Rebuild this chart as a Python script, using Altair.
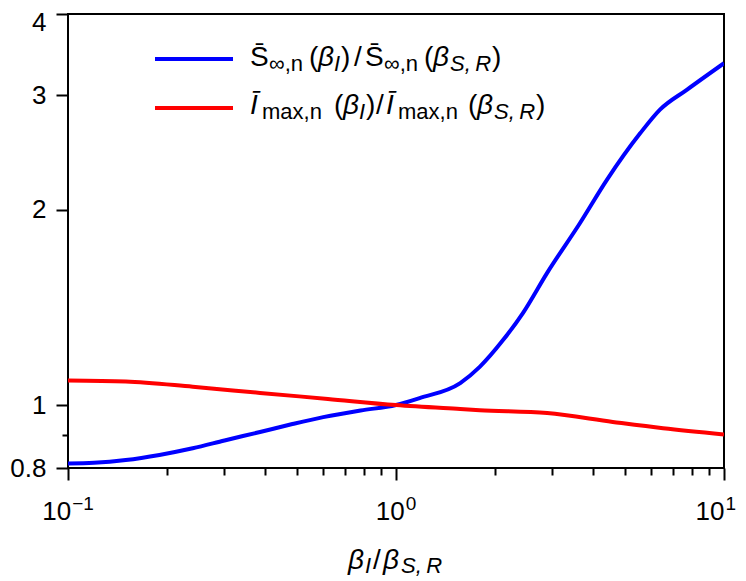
import altair as alt
import pandas as pd

# ---- data ----
blue_x = [0.1, 0.12, 0.15, 0.19, 0.24, 0.3, 0.385, 0.48, 0.6, 0.78, 1.0, 1.18, 1.57, 1.8, 2.12, 2.44, 2.89, 3.64, 4.39, 5.55, 6.38, 7.72, 10.0]
blue_y = [0.813, 0.815, 0.823, 0.838, 0.858, 0.882, 0.909, 0.934, 0.958, 0.981, 1.0, 1.025, 1.081, 1.145, 1.259, 1.387, 1.598, 1.907, 2.22, 2.62, 2.85, 3.06, 3.36]

red_x = [0.1, 0.15, 0.24, 0.385, 0.62, 1.0, 1.57, 1.8, 2.89, 4.58, 6.52, 10.0]
red_y = [1.091, 1.087, 1.067, 1.044, 1.022, 1.0, 0.986, 0.982, 0.972, 0.942, 0.921, 0.901]

y_ticks = [0.8, 0.9, 1, 2, 3, 4]
x_ticks = [0.1, 0.2, 0.3, 0.4, 0.5, 0.6, 0.7, 0.8, 0.9, 1, 2, 3, 4, 5, 6, 7, 8, 9, 10]
x_major = [0.1, 1, 10]
x_exp = ["\u22121", "0", "1"]

# ---- layout ----
PAD_L, PAD_T, PAD_R, PAD_B = 60, 6, 14, 110
W, H = 656, 454
OX, OY = 8 + PAD_L, 8 + PAD_T
FONT = "Liberation Sans"
BLUE, RED = "#0000ff", "#ff0000"
MAIN, SUB = 28, 22
TICKF, EXPF = 26, 19


def px(xr):
    return xr - OX


def py(yr):
    return yr - OY


xscale = alt.Scale(type="log", domain=[0.1, 10], nice=False)
yscale = alt.Scale(type="log", domain=[0.8, 4], nice=False)

major_test = "datum.value == 0.1 || datum.value == 1 || datum.value == 10"
x_axis = alt.Axis(
    values=x_ticks, labels=False, title=None, grid=False, domain=False,
    tickColor="black", tickWidth=2,
    tickSize={"condition": {"test": major_test, "value": 12}, "value": 7},
)
minor_y = "datum.value > 0.85 && datum.value < 0.95"
y_axis = alt.Axis(
    values=y_ticks, title=None, grid=False, domain=False,
    tickColor="black", tickWidth=2,
    tickSize={"condition": {"test": minor_y, "value": 6}, "value": 12},
    labelExpr="datum.value > 0.85 && datum.value < 0.95 ? '' : format(datum.value, '~g')",
    labelFont=FONT, labelFontSize=TICKF, labelColor="black", labelPadding=10,
    labelOffset={"condition": {"test": "datum.value > 3.5", "value": 8}, "value": 0},
)

blue_df = pd.DataFrame({"beta": blue_x, "ratio": blue_y})
red_df = pd.DataFrame({"beta": red_x, "ratio": red_y})

blue_line = alt.Chart(blue_df).mark_line(color=BLUE, strokeWidth=4, clip=True, interpolate="monotone").encode(
    x=alt.X("beta:Q", scale=xscale, axis=x_axis),
    y=alt.Y("ratio:Q", scale=yscale, axis=y_axis),
)
red_line = alt.Chart(red_df).mark_line(color=RED, strokeWidth=4, clip=True, interpolate="monotone").encode(
    x=alt.X("beta:Q", scale=xscale, axis=x_axis),
    y=alt.Y("ratio:Q", scale=yscale, axis=y_axis),
)

one = alt.Data(values=[{"k": 0}])


def txt(s, xr, yr, size, italic=False):
    return alt.Chart(one).mark_text(
        text=s, font=FONT, fontSize=size, fontStyle="italic" if italic else "normal",
        align="left", baseline="alphabetic", color="black",
    ).encode(x=alt.value(px(xr)), y=alt.value(py(yr)))


def hline(x1, x2, yr, color):
    return alt.Chart(one).mark_rule(color=color, strokeWidth=4).encode(
        x=alt.value(px(x1)), x2=alt.value(px(x2)), y=alt.value(py(yr))
    )


layers = [blue_line, red_line]

# legend
layers += [hline(155, 233, 59, BLUE), hline(155, 233, 108, RED)]
b1, s1 = 66, 71
layers += [
    txt("S\u0304", 250, b1, MAIN), txt("\u221e,n", 269, s1, SUB),
    txt("(", 309, b1, MAIN), txt("\u03b2", 318, b1, MAIN, True), txt("I", 334, s1, SUB, True),
    txt(")", 341, b1, MAIN), txt("/", 354, b1, MAIN),
    txt("S\u0304", 365, b1, MAIN), txt("\u221e,n", 384, s1, SUB),
    txt("(", 424, b1, MAIN), txt("\u03b2", 433, b1, MAIN, True), txt("S,\u2009R", 450, s1, SUB, True),
    txt(")", 492, b1, MAIN),
]
b2, s2 = 114, 119
layers += [
    txt("I\u0304", 250, b2, MAIN, True), txt("max,n", 262, s2, SUB),
    txt("(", 334, b2, MAIN), txt("\u03b2", 343, b2, MAIN, True), txt("I", 359, s2, SUB, True),
    txt(")", 366, b2, MAIN), txt("/", 376, b2, MAIN),
    txt("I\u0304", 386, b2, MAIN, True), txt("max,n", 398, s2, SUB),
    txt("(", 468, b2, MAIN), txt("\u03b2", 477, b2, MAIN, True), txt("S,\u2009R", 494, s2, SUB, True),
    txt(")", 536, b2, MAIN),
]

# x axis title
layers += [
    txt("\u03b2", 348, 569, MAIN, True), txt("I", 365, 573, SUB, True),
    txt("/", 373, 569, MAIN), txt("\u03b2", 383, 569, MAIN, True), txt("S,\u2009R", 401, 573, SUB, True),
]

# x tick labels 10^k
for t, e in zip(x_major, x_exp):
    w10 = 2 * 0.556 * TICKF
    wexp = sum((0.584 if c == "\u2212" else 0.556) * EXPF for c in e)
    start = -(w10 + wexp + 1) / 2
    if t == x_major[-1]:
        start = -(w10 + wexp + 1) + 12  # keep the last label inside the page
    d = alt.Data(values=[{"beta": t}])
    layers.append(alt.Chart(d).mark_text(
        text="10", font=FONT, fontSize=TICKF, align="left", baseline="alphabetic", dx=start, color="black"
    ).encode(x=alt.X("beta:Q", scale=xscale, axis=x_axis), y=alt.value(py(520))))
    layers.append(alt.Chart(d).mark_text(
        text=e, font=FONT, fontSize=EXPF, align="left", baseline="alphabetic", dx=start + w10 + 1, color="black"
    ).encode(x=alt.X("beta:Q", scale=xscale, axis=x_axis), y=alt.value(py(510))))

chart = alt.layer(*layers).properties(
    width=W, height=H, background="white",
    autosize=alt.AutoSizeParams(type="none"),
    padding={"left": PAD_L, "top": PAD_T, "right": PAD_R, "bottom": PAD_B},
).configure_view(stroke="black", strokeWidth=2)

chart.save("out.html", embed_options={"renderer": "svg", "actions": False})
